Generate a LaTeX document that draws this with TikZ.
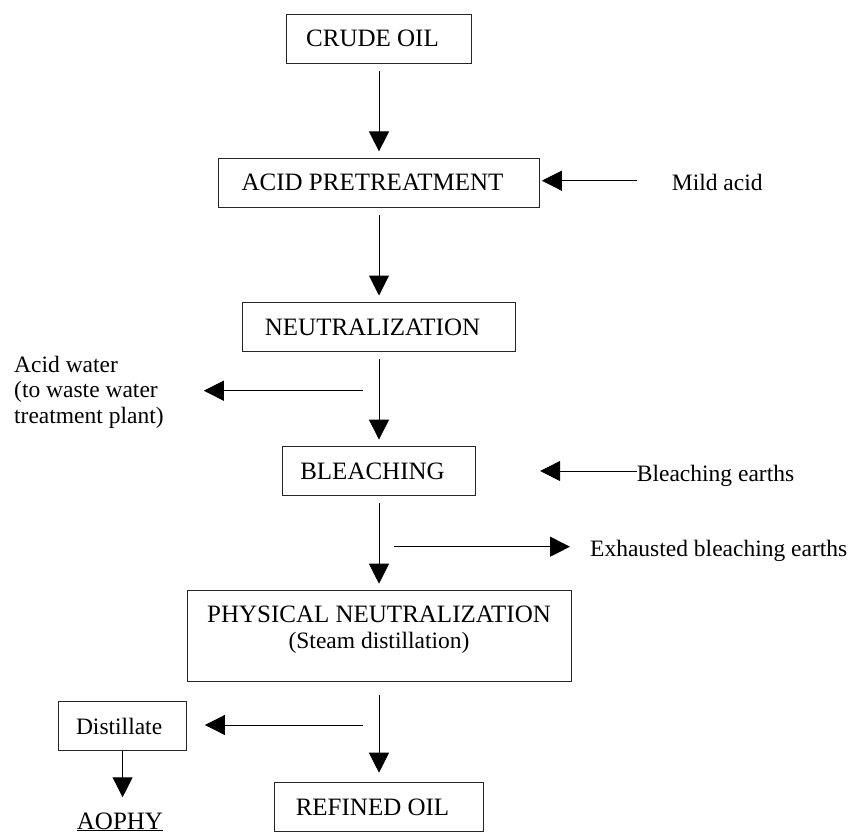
\documentclass[tikz,border=0pt]{standalone}
\usepackage{fontspec}
\setmainfont{Liberation Serif}
\usetikzlibrary{positioning, arrows.meta}

\newcommand{\boxfont}{\fontsize{25}{26}\selectfont}
\newcommand{\lblfont}{\fontsize{23.5}{25.5}\selectfont}
\newcommand{\tsp}{\hspace*{13pt}}

\tikzset{
    stage/.style={draw=black!85, line width=1pt, inner sep=0pt, outer sep=0pt, font=\boxfont, minimum height=48.8pt},
    flow/.style={line width=1pt, -{Triangle[length=20pt, width=20pt]}, shorten <=8pt, shorten >=7pt},
    side/.style={font=\lblfont, inner sep=0pt, text height=20pt, text depth=0pt, anchor=west},
}

\begin{document}
\begin{tikzpicture}[x=1pt, y=-1pt, node distance=95.3pt]
    \useasboundingbox (0,0) rectangle (849,833);

    % main line
    \node[stage, minimum width=184.6pt] (crude) at (379,38.7) {CRUDE OIL\tsp};
    \node[stage, minimum width=320.3pt, below=of crude] (acid) {ACID PRETREATMENT\tsp};
    \node[stage, minimum width=272.7pt, below=of acid] (neutr) {NEUTRALIZATION\tsp};
    \node[stage, minimum width=192.3pt, below=of neutr] (bleach) {BLEACHING\tsp};
    \node[stage, minimum width=384pt, minimum height=91pt, below=of bleach,
          label={[font=\boxfont, align=center, anchor=north, inner sep=0pt, yshift=-15pt]north:{PHYSICAL NEUTRALIZATION\\{\lblfont (Steam distillation)}}}] (phys) {};
    \node[stage, minimum width=209pt, below=101pt of phys] (refined) {REFINED OIL\tsp};

    \node[stage, font=\lblfont, minimum width=128.7pt] (distil) at (122.6,726.2) {Distillate\hspace*{7pt}};
    \node[font=\boxfont, inner sep=0pt, anchor=base] (aophy) at (120,829) {\underline{AOPHY}};

    % side streams
    \node[side] (mild) at (671.7,180.7) {Mild acid};
    \node[font=\lblfont, align=left, inner sep=0pt, anchor=west] (water) at (14,392) {Acid water\\(to waste water\\treatment plant)};
    \node[side] (bearth) at (636.7,471) {Bleaching earths};
    \node[side] (exh) at (590,546.7) {Exhausted bleaching earths};

    \coordinate (awtail) at (362.7,390.7);
    \coordinate (extail) at (394,546.7);
    \coordinate (dtail) at (363,725);

    % arrows
    \foreach \a/\b in {crude/acid, acid/neutr, neutr/bleach, bleach/phys}
        \draw[flow] (\a) -- (\b);
    \draw[flow, shorten <=13pt, shorten >=10pt] (phys) -- (refined);
    \draw[flow, shorten <=0pt, shorten >=15pt] (distil.south) -- (distil.south |- aophy.north);

    \draw[flow, shorten <=35pt, shorten >=2.7pt] (mild.west) -- (mild.west -| acid.east);
    \draw[flow, shorten <=0pt, shorten >=40pt] (awtail) -- (awtail -| water.east);
    \draw[flow, shorten <=0pt, shorten >=65pt] (bearth.west) -- (bearth.west -| bleach.east);
    \draw[flow, shorten <=0pt, shorten >=20pt] (extail) -- (exh.west);
    \draw[flow, shorten <=0pt, shorten >=18pt] (dtail) -- (dtail -| distil.east);
\end{tikzpicture}
\end{document}
